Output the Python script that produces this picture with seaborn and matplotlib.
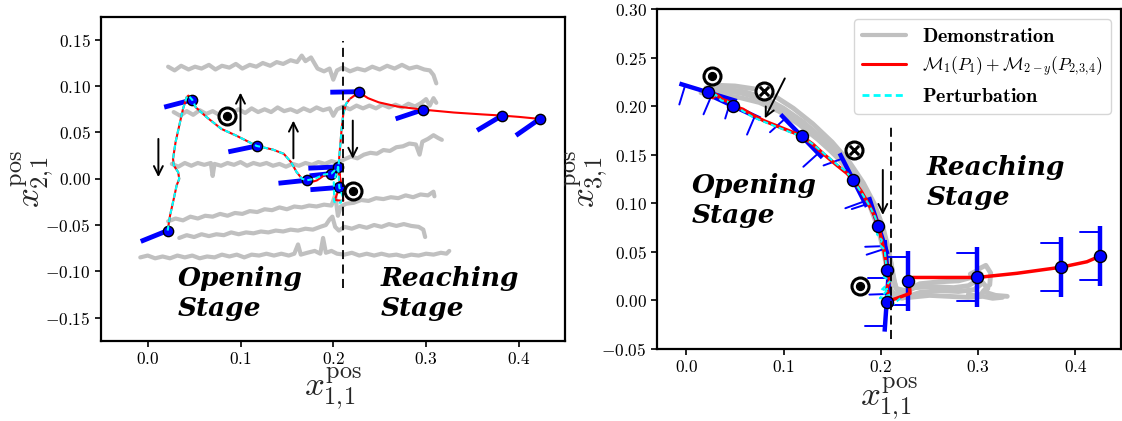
import numpy as np
import pandas as pd
import seaborn as sns
import matplotlib.pyplot as plt
from matplotlib.lines import Line2D

# ---------------- left panel: x1 vs x2 ----------------
left_demo_1 = [(0.022, 0.121), (0.029, 0.117), (0.036, 0.122), (0.044, 0.118), (0.051, 0.121), (0.058, 0.119),
               (0.066, 0.123), (0.073, 0.118), (0.080, 0.122), (0.088, 0.120), (0.095, 0.124), (0.102, 0.119),
               (0.110, 0.123), (0.117, 0.121), (0.124, 0.125), (0.132, 0.122), (0.139, 0.126), (0.146, 0.124),
               (0.154, 0.128), (0.161, 0.126), (0.166, 0.133), (0.170, 0.127), (0.176, 0.131), (0.183, 0.119),
               (0.190, 0.116), (0.196, 0.119), (0.200, 0.107), (0.204, 0.117), (0.210, 0.120), (0.218, 0.116),
               (0.226, 0.119), (0.234, 0.117), (0.242, 0.121), (0.250, 0.118), (0.258, 0.122), (0.266, 0.119),
               (0.274, 0.123), (0.282, 0.119), (0.290, 0.121), (0.298, 0.118), (0.304, 0.117), (0.308, 0.112),
               (0.311, 0.103)]
left_demo_2 = [(0.028, 0.072), (0.035, 0.068), (0.042, 0.073), (0.049, 0.069), (0.056, 0.074), (0.063, 0.070),
               (0.070, 0.073), (0.077, 0.069), (0.084, 0.074), (0.091, 0.071), (0.098, 0.075), (0.105, 0.071),
               (0.112, 0.076), (0.119, 0.072), (0.126, 0.075), (0.133, 0.072), (0.140, 0.077), (0.147, 0.073),
               (0.154, 0.075), (0.161, 0.072), (0.168, 0.076), (0.175, 0.073), (0.182, 0.077), (0.189, 0.074),
               (0.196, 0.076), (0.200, 0.068), (0.204, 0.075), (0.211, 0.078), (0.218, 0.075), (0.225, 0.079),
               (0.232, 0.076), (0.239, 0.079), (0.246, 0.076), (0.253, 0.080), (0.260, 0.077), (0.267, 0.080),
               (0.274, 0.077), (0.281, 0.081), (0.288, 0.078), (0.295, 0.082), (0.300, 0.086), (0.304, 0.079),
               (0.308, 0.087), (0.311, 0.082)]
left_demo_3 = [(0.026, 0.016), (0.033, 0.013), (0.040, 0.017), (0.047, 0.014), (0.054, 0.017), (0.061, 0.015),
               (0.068, 0.017), (0.070, 0.003), (0.072, 0.016), (0.079, 0.014), (0.086, 0.017), (0.093, 0.015),
               (0.100, 0.018), (0.107, 0.014), (0.114, 0.017), (0.121, 0.015), (0.128, 0.017), (0.135, 0.014),
               (0.142, 0.016), (0.149, 0.013), (0.156, 0.016), (0.163, 0.014), (0.170, 0.017), (0.177, 0.015),
               (0.184, 0.018), (0.191, 0.016), (0.198, 0.019), (0.205, 0.017), (0.212, 0.021), (0.219, 0.024),
               (0.226, 0.022), (0.233, 0.026), (0.240, 0.028), (0.247, 0.027), (0.254, 0.031), (0.261, 0.030),
               (0.268, 0.034), (0.275, 0.035), (0.282, 0.038), (0.289, 0.037), (0.293, 0.026), (0.296, 0.040),
               (0.302, 0.043), (0.308, 0.047), (0.313, 0.044), (0.317, 0.042)]
left_demo_4 = [(0.022, -0.046), (0.030, -0.043), (0.038, -0.045), (0.046, -0.041), (0.054, -0.043), (0.062, -0.040),
               (0.070, -0.041), (0.078, -0.038), (0.086, -0.040), (0.094, -0.037), (0.102, -0.038), (0.110, -0.035),
               (0.118, -0.036), (0.126, -0.033), (0.134, -0.034), (0.142, -0.031), (0.150, -0.033), (0.158, -0.030),
               (0.166, -0.031), (0.174, -0.029), (0.182, -0.030), (0.190, -0.028), (0.198, -0.029), (0.202, -0.018),
               (0.205, -0.040), (0.208, -0.030), (0.214, -0.027), (0.222, -0.026), (0.230, -0.023), (0.238, -0.024),
               (0.246, -0.021), (0.254, -0.022), (0.262, -0.020), (0.270, -0.021), (0.278, -0.018), (0.286, -0.020),
               (0.294, -0.017), (0.302, -0.018), (0.308, -0.014), (0.309, -0.019)]
left_demo_5 = [(0.034, -0.064), (0.042, -0.061), (0.050, -0.063), (0.058, -0.060), (0.066, -0.062), (0.074, -0.060),
               (0.082, -0.061), (0.090, -0.058), (0.098, -0.060), (0.106, -0.058), (0.114, -0.059), (0.122, -0.057),
               (0.130, -0.058), (0.138, -0.056), (0.146, -0.057), (0.154, -0.055), (0.162, -0.056), (0.170, -0.054),
               (0.178, -0.055), (0.186, -0.052), (0.192, -0.050), (0.196, -0.044), (0.199, -0.041), (0.202, -0.052),
               (0.206, -0.056), (0.212, -0.052), (0.220, -0.054), (0.228, -0.051), (0.236, -0.053), (0.244, -0.050),
               (0.252, -0.052), (0.260, -0.049), (0.268, -0.051), (0.276, -0.049), (0.284, -0.051), (0.292, -0.052),
               (0.297, -0.055), (0.299, -0.063)]
left_demo_6 = [(-0.008, -0.085), (0.000, -0.083), (0.008, -0.086), (0.016, -0.084), (0.024, -0.086), (0.032, -0.083),
               (0.040, -0.085), (0.048, -0.083), (0.056, -0.086), (0.064, -0.084), (0.072, -0.085), (0.080, -0.082),
               (0.088, -0.084), (0.096, -0.082), (0.104, -0.085), (0.112, -0.082), (0.120, -0.083), (0.128, -0.081),
               (0.136, -0.083), (0.144, -0.081), (0.152, -0.083), (0.158, -0.081), (0.162, -0.071), (0.165, -0.082),
               (0.172, -0.080), (0.180, -0.078), (0.186, -0.081), (0.189, -0.064), (0.192, -0.080), (0.198, -0.078),
               (0.204, -0.081), (0.212, -0.082), (0.220, -0.080), (0.228, -0.083), (0.236, -0.081), (0.244, -0.083),
               (0.252, -0.081), (0.260, -0.083), (0.268, -0.082), (0.276, -0.084), (0.284, -0.082), (0.292, -0.083),
               (0.300, -0.081), (0.308, -0.082), (0.316, -0.080), (0.322, -0.081), (0.325, -0.078)]

left_path = [(0.0215, -0.056), (0.0241, -0.0396), (0.0281, -0.0216), (0.0312, -0.0072), (0.034, -0.0001),
             (0.0328, 0.0071), (0.0281, 0.0143), (0.0273, 0.0215), (0.030, 0.0394), (0.034, 0.0574),
             (0.038, 0.0753), (0.0419, 0.0879), (0.0438, 0.0898), (0.048, 0.0852), (0.0518, 0.0771),
             (0.0636, 0.0664), (0.0794, 0.0538), (0.0953, 0.0466), (0.111, 0.0387), (0.1175, 0.0354),
             (0.1348, 0.0315), (0.1466, 0.0269), (0.1545, 0.0179), (0.1605, 0.0071), (0.1664, -0.0001),
             (0.172, -0.0016), (0.1763, -0.0036), (0.1822, -0.0019), (0.190, 0.0035), (0.198, 0.0056),
             (0.201, 0.010), (0.2054, 0.0128), (0.207, 0.0035), (0.2065, -0.0094), (0.2035, -0.018),
             (0.2018, -0.023), (0.2108, -0.024), (0.210, -0.012), (0.2054, 0.011), (0.2072, 0.0325),
             (0.209, 0.054), (0.2108, 0.070), (0.2137, 0.0809), (0.218, 0.0863), (0.2252, 0.0916),
             (0.228, 0.094), (0.232, 0.0905), (0.2375, 0.087), (0.249, 0.0825), (0.269, 0.078),
             (0.2968, 0.0746), (0.33, 0.0715), (0.36, 0.0695), (0.3818, 0.0682), (0.40, 0.0668), (0.4225, 0.0646)]
left_perturb = [(0.0215, -0.056), (0.0241, -0.0396), (0.0281, -0.0216), (0.0312, -0.0072), (0.034, -0.0001),
                (0.0328, 0.0071), (0.0281, 0.0143), (0.0273, 0.0215), (0.030, 0.0394), (0.034, 0.0574),
                (0.038, 0.0753), (0.0419, 0.0879), (0.0438, 0.0898), (0.048, 0.0852), (0.0518, 0.0771),
                (0.0636, 0.0664), (0.0794, 0.0538), (0.0953, 0.0466), (0.111, 0.0387), (0.1175, 0.0354),
                (0.1348, 0.0315), (0.1466, 0.0269), (0.1545, 0.0179), (0.1605, 0.0071), (0.1664, -0.0001),
                (0.172, -0.0016), (0.180, 0.000), (0.190, 0.0045), (0.198, 0.0056), (0.2054, 0.0128),
                (0.2005, -0.004), (0.201, -0.025), (0.208, -0.026), (0.2105, -0.020), (0.2065, -0.0094),
                (0.2054, 0.011), (0.2072, 0.0325), (0.209, 0.054), (0.2108, 0.070), (0.2137, 0.0809), (0.218, 0.0863)]

left_wp_x = [0.0215, 0.048, 0.1175, 0.172, 0.198, 0.2054, 0.2065, 0.228, 0.2968, 0.3818, 0.4225]
left_wp_y = [-0.056, 0.0852, 0.0354, -0.0016, 0.0056, 0.0128, -0.0094, 0.094, 0.0746, 0.0682, 0.0646]
left_wp_angle = [202, 194.6, 191.7, 186, 186, 182.5, 184.5, 181, 198.5, 210.8, 214.8]   # gripper bar, screen deg
left_wp_len = [29, 29, 29, 29, 22, 30, 29, 29, 29, 29, 29]                              # px

left_dots = [(0.085, 0.068), (0.221, -0.0137)]
left_arrows = [(0.0115, 0.043, 0.0115, 0.0017), (0.100, 0.052, 0.100, 0.093),
               (0.157, 0.022, 0.157, 0.0628), (0.221, 0.0628, 0.221, 0.0215)]
left_boundary = (0.21, -0.118, 0.149)

# ---------------- right panel: x1 vs x3 ----------------
right_demo_1 = [(0.02, 0.219), (0.04, 0.218), (0.06, 0.215), (0.08, 0.209), (0.10, 0.198), (0.12, 0.184),
                (0.14, 0.167), (0.16, 0.147), (0.175, 0.128), (0.188, 0.107), (0.198, 0.085), (0.205, 0.062),
                (0.21, 0.040), (0.213, 0.022), (0.216, 0.012), (0.225, 0.010), (0.24, 0.017), (0.26, 0.019),
                (0.28, 0.020), (0.295, 0.024), (0.302, 0.033), (0.308, 0.036), (0.313, 0.028), (0.312, 0.016),
                (0.305, 0.009), (0.318, 0.005), (0.33, 0.004)]
right_demo_2 = [(0.015, 0.214), (0.035, 0.212), (0.055, 0.209), (0.075, 0.204), (0.095, 0.195), (0.115, 0.182),
                (0.135, 0.166), (0.155, 0.148), (0.17, 0.130), (0.184, 0.110), (0.194, 0.088), (0.201, 0.064),
                (0.206, 0.040), (0.209, 0.018), (0.212, 0.004), (0.222, 0.002), (0.24, 0.008), (0.26, 0.010),
                (0.28, 0.009), (0.296, 0.011), (0.305, 0.018), (0.31, 0.012), (0.30, 0.004), (0.29, 0.006)]
right_demo_3 = [(0.025, 0.222), (0.05, 0.221), (0.07, 0.218), (0.09, 0.211), (0.11, 0.198), (0.13, 0.182),
                (0.15, 0.163), (0.168, 0.142), (0.182, 0.121), (0.193, 0.100), (0.202, 0.076), (0.208, 0.052),
                (0.212, 0.030), (0.215, 0.014), (0.22, 0.006), (0.235, 0.013), (0.255, 0.014), (0.275, 0.013),
                (0.29, 0.015), (0.30, 0.021), (0.303, 0.027), (0.298, 0.030), (0.292, 0.027)]
right_demo_4 = [(0.03, 0.216), (0.055, 0.214), (0.08, 0.207), (0.10, 0.196), (0.12, 0.181), (0.14, 0.163),
                (0.16, 0.142), (0.176, 0.121), (0.188, 0.099), (0.197, 0.075), (0.203, 0.050), (0.207, 0.028),
                (0.21, 0.010), (0.218, 0.004), (0.23, 0.003), (0.25, 0.005), (0.27, 0.004), (0.29, 0.003),
                (0.305, 0.004), (0.315, 0.002), (0.325, 0.003)]

right_path = [(0.0223, 0.2144), (0.027, 0.209), (0.031, 0.212), (0.037, 0.207), (0.043, 0.205), (0.048, 0.2003),
              (0.058, 0.197), (0.068, 0.191), (0.08, 0.185), (0.09, 0.181), (0.10, 0.177), (0.11, 0.173),
              (0.1184, 0.1693), (0.13, 0.161), (0.142, 0.150), (0.155, 0.139), (0.165, 0.131), (0.1716, 0.124),
              (0.18, 0.112), (0.188, 0.098), (0.194, 0.086), (0.1973, 0.0769), (0.200, 0.066), (0.203, 0.052),
              (0.205, 0.040), (0.2066, 0.0312), (0.209, 0.020), (0.206, 0.012), (0.208, 0.005), (0.206, -0.0015),
              (0.2163, 0.002), (0.230, 0.0071), (0.2293, 0.0175), (0.2282, 0.0201), (0.233, 0.0235),
              (0.26, 0.0235), (0.2993, 0.0235), (0.34, 0.0278), (0.385, 0.034), (0.412, 0.0397), (0.4256, 0.0456)]
right_perturb = [(0.0223, 0.2144), (0.026, 0.209), (0.03, 0.212), (0.036, 0.206), (0.042, 0.205), (0.048, 0.2003),
                 (0.055, 0.197), (0.06, 0.194), (0.068, 0.189), (0.08, 0.184), (0.09, 0.180), (0.1, 0.176),
                 (0.11, 0.172), (0.1184, 0.1693), (0.13, 0.161), (0.142, 0.151), (0.155, 0.140), (0.163, 0.134),
                 (0.1716, 0.124), (0.18, 0.111), (0.188, 0.098), (0.194, 0.086), (0.1973, 0.0769), (0.196, 0.068),
                 (0.201, 0.062), (0.199, 0.057), (0.204, 0.052), (0.205, 0.040), (0.2066, 0.0312), (0.203, 0.024),
                 (0.21, 0.020), (0.200, 0.010), (0.208, 0.012), (0.199, 0.002), (0.21, 0.006), (0.206, -0.0015),
                 (0.213, -0.004), (0.22, 0.002)]

right_wp_x = [0.0223, 0.048, 0.1184, 0.1716, 0.1973, 0.2066, 0.206, 0.2282, 0.2993, 0.385, 0.4256]
right_wp_y = [0.2144, 0.2003, 0.1693, 0.124, 0.0769, 0.0312, -0.0015, 0.0201, 0.0235, 0.034, 0.0456]
right_bar_angle = [-17, -25, -46, -63, -72, -85, -94, 90, 90, 90, 90]          # gripper base, screen deg
right_finger_angle = [-107, -113, -138, -160, -162, -178, -180, 180, 180, 180, 180]

right_dots = [(0.0264, 0.2315), (0.1785, 0.0147)]
right_crosses = [(0.080, 0.216), (0.172, 0.155)]
right_arrows = [(0.1012, 0.2288, 0.0806, 0.1876), (0.202, 0.1344, 0.202, 0.0879)]
right_boundary = (0.21, -0.04, 0.179)

legend_labels = [r"$\mathbf{Demonstration}$", r"$\mathcal{M}_1(P_1)+\mathcal{M}_{2-y}(P_{2,\!3,\!4})$",
                 r"$\mathbf{Perturbation}$"]

# ---------------- style ----------------
sns.set_style("ticks")
plt.rcParams.update({
    "font.family": "serif",
    "font.serif": ["cmr10"],
    "mathtext.fontset": "cm",
    "axes.formatter.use_mathtext": True,
    "axes.edgecolor": "black",
    "axes.linewidth": 1.6,
    "xtick.color": "black",
    "ytick.color": "black",
    "text.color": "black",
})

GRAY = "#c0c0c0"
BLUE = "#0000ff"
stage_font = dict(family="DejaVu Serif", weight="bold", style="italic", size=19, linespacing=1.25)


def demo_frame(traces):
    return pd.concat([pd.DataFrame(t, columns=["x", "y"]).assign(demo=i) for i, t in enumerate(traces)],
                     ignore_index=True)


def path_frame(pts):
    return pd.DataFrame(pts, columns=["x", "y"])


def offset(ax, x, y, ang, dist):
    p = ax.transData.transform((x, y))
    a = np.deg2rad(ang)
    return ax.transData.inverted().transform(p + dist * np.array([np.cos(a), np.sin(a)]))


def draw_marks(ax, dots, crosses, arrows):
    for (x, y) in dots:
        ax.scatter(x, y, s=150, facecolor="white", edgecolor="black", linewidth=2.2, zorder=7)
        ax.scatter(x, y, s=32, color="black", zorder=8)
    for (x, y) in crosses:
        ax.scatter(x, y, s=150, facecolor="white", edgecolor="black", linewidth=2.2, zorder=7)
        ax.scatter(x, y, s=45, marker="x", color="black", linewidth=2.2, zorder=8)
    for (x0, y0, x1, y1) in arrows:
        ax.annotate("", xy=(x1, y1), xytext=(x0, y0),
                    arrowprops=dict(arrowstyle="->", lw=1.4, color="black", mutation_scale=16,
                                    shrinkA=0, shrinkB=0), zorder=7)


fig = plt.figure(figsize=(11.22, 4.21), dpi=100)
axL = fig.add_axes([0.0903, 0.1907, 0.4135, 0.7696])
axR = fig.add_axes([0.5858, 0.1717, 0.4133, 0.806])

axL.set_xlim(-0.05, 0.45)
axL.set_ylim(-0.175, 0.175)
axR.set_xlim(-0.03, 0.447)
axR.set_ylim(-0.05, 0.30)

# ---- left ----
sns.lineplot(data=demo_frame([left_demo_1, left_demo_2, left_demo_3, left_demo_4, left_demo_5, left_demo_6]),
             x="x", y="y", units="demo", estimator=None, sort=False, color=GRAY, lw=3, ax=axL, zorder=1)
for x, y, a, L in zip(left_wp_x, left_wp_y, left_wp_angle, left_wp_len):
    tx, ty = offset(axL, x, y, a, L)
    axL.plot([x, tx], [y, ty], color=BLUE, lw=3.5, solid_capstyle="butt", zorder=2)
sns.lineplot(data=path_frame(left_path), x="x", y="y", sort=False, estimator=None,
             color="red", lw=1.5, ax=axL, zorder=3)
sns.scatterplot(x=left_wp_x, y=left_wp_y, s=55, color=BLUE, edgecolor="black", linewidth=1, ax=axL, zorder=4)
sns.lineplot(data=path_frame(left_perturb), x="x", y="y", sort=False, estimator=None,
             color="cyan", lw=1.5, ax=axL, zorder=5).lines[-1].set_dashes((2.5, 1.5))
axL.vlines(left_boundary[0], left_boundary[1], left_boundary[2], colors="black", linestyles=(0, (5, 3)), lw=1.3, zorder=6)
draw_marks(axL, left_dots, [], left_arrows)
axL.text(0.032, -0.094, "Opening\nStage", va="top", ha="left", **stage_font)
axL.text(0.251, -0.094, "Reaching\nStage", va="top", ha="left", **stage_font)

# ---- right ----
sns.lineplot(data=demo_frame([right_demo_1, right_demo_2, right_demo_3, right_demo_4]),
             x="x", y="y", units="demo", estimator=None, sort=False, color=GRAY, lw=3.5, ax=axR, zorder=1)
for x, y, a, f in zip(right_wp_x, right_wp_y, right_bar_angle, right_finger_angle):
    b0 = offset(axR, x, y, a, 30)
    b1 = offset(axR, x, y, a + 180, 30)
    axR.plot([b0[0], b1[0]], [b0[1], b1[1]], color=BLUE, lw=3.2, solid_capstyle="butt", zorder=2)
    for s in (24, -24):
        fx, fy = offset(axR, x, y, a, s)
        gx, gy = offset(axR, fx, fy, f, 20)
        axR.plot([fx, gx], [fy, gy], color=BLUE, lw=1.4, zorder=2)
sns.lineplot(data=path_frame(right_path), x="x", y="y", sort=False, estimator=None,
             color="red", lw=2.5, ax=axR, zorder=3)
sns.lineplot(data=path_frame(right_perturb), x="x", y="y", sort=False, estimator=None,
             color="cyan", lw=1.5, ax=axR, zorder=4).lines[-1].set_dashes((2.5, 1.5))
sns.scatterplot(x=right_wp_x, y=right_wp_y, s=75, color=BLUE, edgecolor="black", linewidth=1, ax=axR, zorder=5)
axR.vlines(right_boundary[0], right_boundary[1], right_boundary[2], colors="black", linestyles=(0, (5, 3)), lw=1.3, zorder=6)
draw_marks(axR, right_dots, right_crosses, right_arrows)
axR.text(0.0055, 0.131, "Opening\nStage", va="top", ha="left", **stage_font)
axR.text(0.2475, 0.150, "Reaching\nStage", va="top", ha="left", **stage_font)

handles = [Line2D([], [], color=GRAY, lw=3), Line2D([], [], color="red", lw=2.2),
           Line2D([], [], color="cyan", lw=2, dashes=(2.5, 1.5))]
leg = axR.legend(handles, legend_labels, loc="upper right", fontsize=14.5, handlelength=2.2,
                 labelspacing=0.45, framealpha=0.8)
leg.get_texts()[1].set_fontsize(12.5)

# ---- axes cosmetics ----
axL.set_xticks(np.arange(0, 0.41, 0.1))
axL.set_yticks(np.arange(-0.15, 0.151, 0.05))
axR.set_xticks(np.arange(0, 0.41, 0.1))
axR.set_yticks(np.arange(-0.05, 0.301, 0.05))
for ax, ylab in ((axL, r"$x^{\rm pos}_{2,\!1}$"), (axR, r"$x^{\rm pos}_{3,\!1}$")):
    for side in ("top", "right", "left", "bottom"):
        ax.spines[side].set_visible(True)
    ax.tick_params(labelsize=12.5, direction="out", length=4, width=1.2)
    ax.set_xlabel(r"$x^{\rm pos}_{1,\!1}$", fontsize=25)
    ax.set_ylabel(ylab, fontsize=25)
axL.xaxis.set_label_coords(0.5, -0.076)
axL.yaxis.set_label_coords(-0.10, 0.5)
axR.xaxis.set_label_coords(0.5, -0.077)
axR.yaxis.set_label_coords(-0.103, 0.5)

fig.savefig("out.png", dpi=100)
